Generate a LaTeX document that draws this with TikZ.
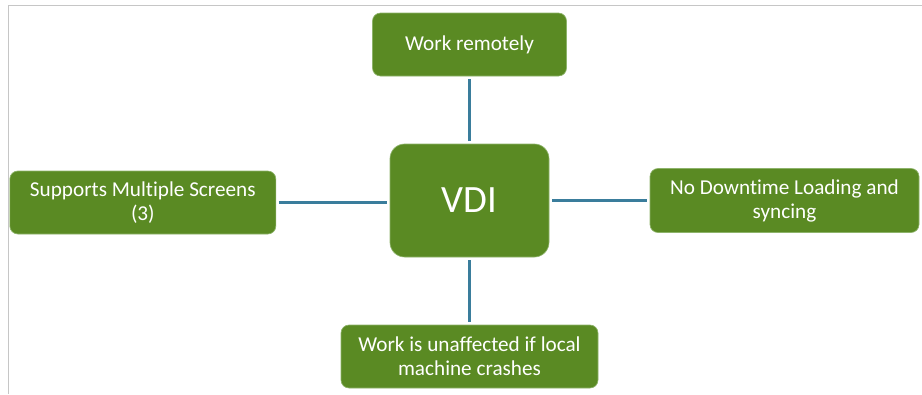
\documentclass[tikz,border=0pt]{standalone}
\usepackage{fontspec}
\setmainfont{Carlito}[Ligatures=NoCommon]
\usepackage{tikz}
\usetikzlibrary{arrows}
\definecolor{boxgreen}{HTML}{5A8A23}
\definecolor{boxedge}{HTML}{8DB36A}
\definecolor{linkblue}{HTML}{3A7D9C}
\definecolor{framegray}{HTML}{C6C6C6}

\begin{document}
\begin{tikzpicture}[x=0.75pt,y=-0.75pt,-,shorten >=2pt,shorten <=2pt,
                    line width=2.2pt]
  \tikzstyle{every node}=[fill=boxgreen,draw=boxedge,line width=0.5pt,text=white,
                          rounded corners=6pt,align=center,font=\fontsize{15.9}{18}\selectfont]
  \tikzstyle{link}=[draw=linkblue]

  \useasboundingbox (0,0) rectangle (922,394);
  \draw[framegray,line width=0.75pt,shorten >=0pt,shorten <=0pt] (8,394) -- (8,5) -- (922,5);

  \node[minimum width=119.25pt,minimum height=84.75pt,rounded corners=11pt,
        font=\fontsize{29}{33}\selectfont] (V) at (469.5,200.5) {VDI};
  \node[minimum width=145.5pt,minimum height=47.25pt] (T)
        [above of=V,node distance=117pt] {Work remotely};
  \node[minimum width=192.75pt,minimum height=47.25pt] (B)
        [below of=V,node distance=117pt] {Work is unaffected if local\\machine crashes};
  \node[minimum width=199.5pt,minimum height=47.25pt] (L)
        [left of=V,node distance=245pt,yshift=-1.5pt] {Supports Multiple Screens\\(3)};
  \node[minimum width=201.75pt,minimum height=48pt] (R)
        [right of=V,node distance=236.25pt] {No Downtime Loading and\\syncing};

  \path (V) edge[link] (T)
        (V) edge[link] (B)
        (L) edge[link] (L -| V.west)
        (V.east) edge[link] (R.west |- V.east);
\end{tikzpicture}
\end{document}
